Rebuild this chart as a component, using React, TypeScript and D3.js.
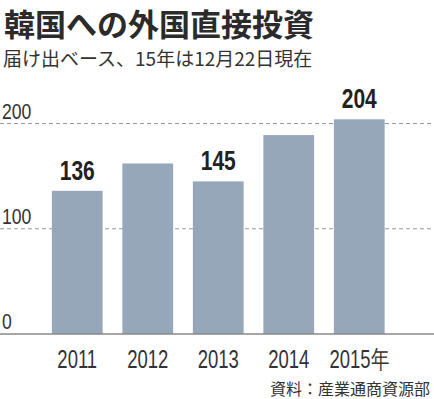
import * as d3 from "d3";
import { useEffect, useRef } from "react";

const years = ["2011", "2012", "2013", "2014", "2015"];
const yearLabels = ["2011", "2012", "2013", "2014", "2015年"];
const values = [136, 162, 145, 189, 204];
const shownLabels = ["136", "", "145", "", "204"];
const yTicks = [0, 100, 200];

const title = "韓国への外国直接投資";
const subtitle = "届け出ベース、15年は12月22日現在";
const source = "資料：産業通商資源部";

const W = 434;
const H = 399;
const cjk = "'Noto Sans CJK JP', 'Noto Sans', sans-serif";
const sans = "'Liberation Sans', Arial, sans-serif";

function App() {
  const ref = useRef<SVGSVGElement>(null);

  useEffect(() => {
    const svg = d3.select(ref.current);
    svg.selectAll("*").remove();

    const x = d3
      .scaleBand<string>()
      .domain(years)
      .range([42, 394.5])
      .paddingInner(0.28)
      .paddingOuter(0.14);

    const y = d3.scaleLinear().domain([0, 200]).range([334, 123.5]);

    // the reference uses a condensed face, squeeze a regular one
    const squeeze = (px: number, py: number, sx: number) =>
      `translate(${px},${py}) scale(${sx},1)`;

    svg
      .append("text")
      .attr("x", 4)
      .attr("y", 36)
      .attr("font-family", cjk)
      .attr("font-weight", 700)
      .attr("font-size", 31)
      .attr("fill", "#2b2b2b")
      .text(title);

    svg
      .append("text")
      .attr("x", 3)
      .attr("y", 66)
      .attr("font-family", cjk)
      .attr("font-size", 19)
      .attr("fill", "#333")
      .text(subtitle);

    // grid lines
    svg
      .append("g")
      .selectAll("line")
      .data(yTicks.filter((t) => t > 0))
      .join("line")
      .attr("x1", 0)
      .attr("x2", W)
      .attr("y1", (d) => y(d))
      .attr("y2", (d) => y(d))
      .attr("stroke", "#999")
      .attr("stroke-width", 1.2)
      .attr("stroke-dasharray", "4,3");

    // bars
    svg
      .append("g")
      .selectAll("rect")
      .data(values)
      .join("rect")
      .attr("x", (_, i) => x(years[i])!)
      .attr("y", (d) => y(d))
      .attr("width", x.bandwidth())
      .attr("height", (d) => y(0) - y(d))
      .attr("fill", "#95a7b9");

    svg
      .append("line")
      .attr("x1", 0)
      .attr("x2", W)
      .attr("y1", y(0))
      .attr("y2", y(0))
      .attr("stroke", "#888")
      .attr("stroke-width", 1.5);

    // y tick labels
    svg
      .append("g")
      .selectAll("text")
      .data(yTicks)
      .join("text")
      .attr("transform", (d) => squeeze(2, y(d) - 5, 0.8))
      .attr("font-family", sans)
      .attr("font-size", 22)
      .attr("fill", "#333")
      .text((d) => d);

    // value labels
    svg
      .append("g")
      .selectAll("text")
      .data(values)
      .join("text")
      .attr("transform", (d, i) =>
        squeeze(x(years[i])! + x.bandwidth() / 2, y(d) - 11, 0.75),
      )
      .attr("text-anchor", "middle")
      .attr("font-family", sans)
      .attr("font-weight", 700)
      .attr("font-size", 28)
      .attr("fill", "#222")
      .text((_, i) => shownLabels[i]);

    // x labels
    svg
      .append("g")
      .selectAll("text")
      .data(years)
      .join("text")
      .attr("transform", (d) =>
        squeeze(x(d)! + x.bandwidth() / 2, 368, 0.74),
      )
      .attr("text-anchor", "middle")
      .attr("font-family", sans)
      .attr("font-size", 25)
      .attr("fill", "#333")
      .text((_, i) => yearLabels[i]);

    svg
      .append("text")
      .attr("x", 430)
      .attr("y", 395)
      .attr("text-anchor", "end")
      .attr("font-family", cjk)
      .attr("font-size", 16)
      .attr("fill", "#333")
      .text(source);
  }, []);

  return (
    <svg
      ref={ref}
      width={W}
      height={H}
      style={{ position: "absolute", left: 0, top: 0, background: "#fff" }}
    />
  );
}

export default App;
